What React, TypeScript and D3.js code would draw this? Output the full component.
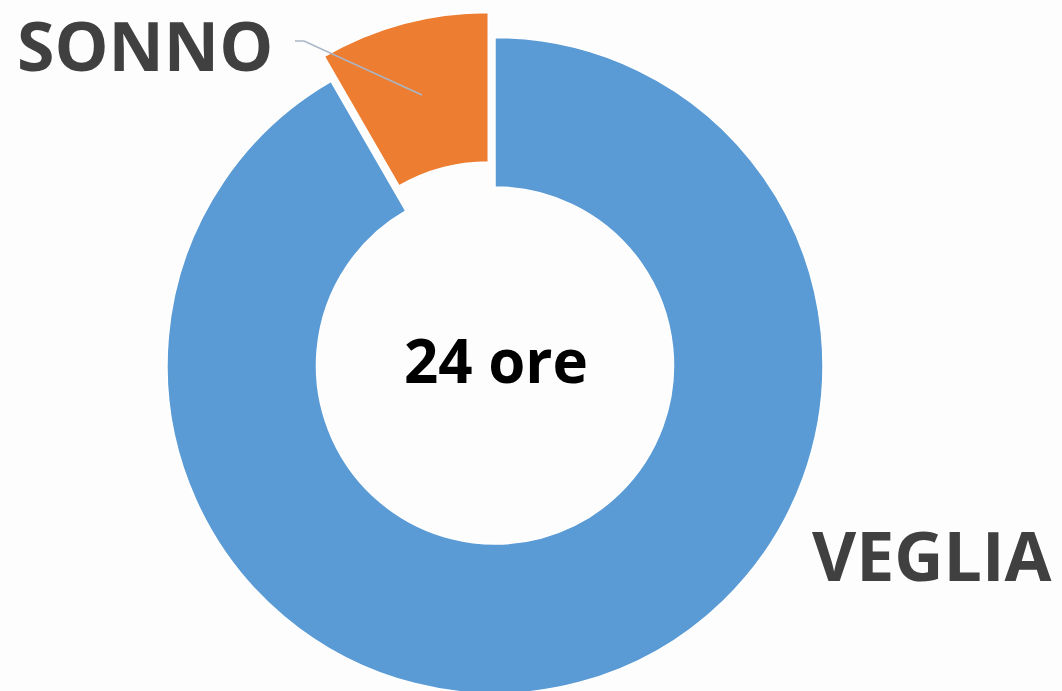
import React from "react";
import * as d3 from "d3";

const categories = ["VEGLIA", "SONNO"];
const hours = [22, 2];
const colors = ["#5B9BD5", "#ED7D31"];
const centerLabel = "24 ore";

export default function App() {
  const width = 1062;
  const height = 691;
  const cx = 495;
  const cy = 365.5;
  const outerR = 328;
  const innerR = 178.5;
  const explode = 26;

  const data = categories.map((c, i) => ({ name: c, value: hours[i], color: colors[i] }));

  const pie = d3
    .pie<{ name: string; value: number; color: string }>()
    .value((d) => d.value)
    .sort(null)
    .startAngle(0)
    .endAngle(Math.PI * 2);

  const arc = d3
    .arc<d3.PieArcDatum<{ name: string; value: number; color: string }>>()
    .innerRadius(innerR)
    .outerRadius(outerR);

  const slices = pie(data);

  const font = "'Open Sans', 'DejaVu Sans', sans-serif";

  return (
    <svg
      width={width}
      height={height}
      style={{ position: "absolute", left: 0, top: 0, background: "#fdfdfd" }}
    >
      <g transform={`translate(${cx}, ${cy})`}>
        {slices.map((s, i) => {
          const mid = (s.startAngle + s.endAngle) / 2;
          const off = s.data.name === "SONNO" ? explode : 0;
          const dx = off * Math.sin(mid);
          const dy = -off * Math.cos(mid);
          return (
            <path
              key={i}
              d={arc(s) || ""}
              transform={`translate(${dx}, ${dy})`}
              fill={s.data.color}
              stroke="#ffffff"
              strokeWidth={1.5}
            />
          );
        })}
      </g>

      {/* leader line for SONNO */}
      <polyline
        points="295,41 304,41 422,95"
        fill="none"
        stroke="#a9b6c8"
        strokeWidth={1.5}
      />

      <text x={17} y={71} fontFamily={font} fontWeight="bold" fontSize={68} fill="#404040">
        {categories[1]}
      </text>
      <text x={812} y={581} fontFamily={font} fontWeight="bold" fontSize={68} fill="#404040">
        {categories[0]}
      </text>
      <text
        x={496}
        y={383}
        textAnchor="middle"
        fontFamily={font}
        fontWeight="bold"
        fontSize={60}
        fill="#000000"
      >
        {centerLabel}
      </text>
    </svg>
  );
}
